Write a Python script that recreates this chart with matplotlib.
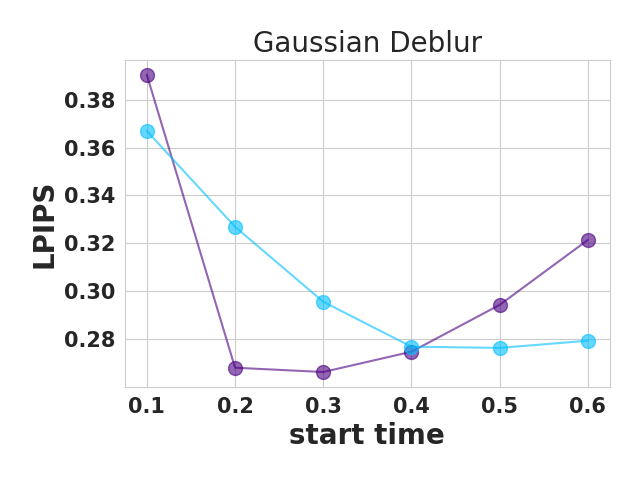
import numpy as np
import matplotlib
matplotlib.use("Agg")
import matplotlib.pyplot as plt
import seaborn as sns

sns.set_style("whitegrid")

start_time = [0.1, 0.2, 0.3, 0.4, 0.5, 0.6]
lpips_purple = [0.3905, 0.2679, 0.2661, 0.2746, 0.2942, 0.3214]
lpips_blue = [0.3670, 0.3269, 0.2955, 0.2767, 0.2762, 0.2792]

fig = plt.figure(figsize=(6.4, 4.8), dpi=100)
ax = fig.add_axes([0.195, 0.194, 0.758, 0.681])
ax.plot(start_time, lpips_purple, marker="o", markersize=10, color="indigo", alpha=0.6)
ax.plot(start_time, lpips_blue, marker="o", markersize=10, color="deepskyblue", alpha=0.6)

ax.set_title("Gaussian Deblur", fontsize=20)
ax.set_xlabel("start time", fontsize=20, fontweight="bold")
ax.set_ylabel("LPIPS", fontsize=20, fontweight="bold")
ax.set_yticks([0.28, 0.30, 0.32, 0.34, 0.36, 0.38])
for lab in ax.get_xticklabels() + ax.get_yticklabels():
    lab.set_fontsize(15)
    lab.set_fontweight("bold")

fig.savefig("out.png", dpi=100)
